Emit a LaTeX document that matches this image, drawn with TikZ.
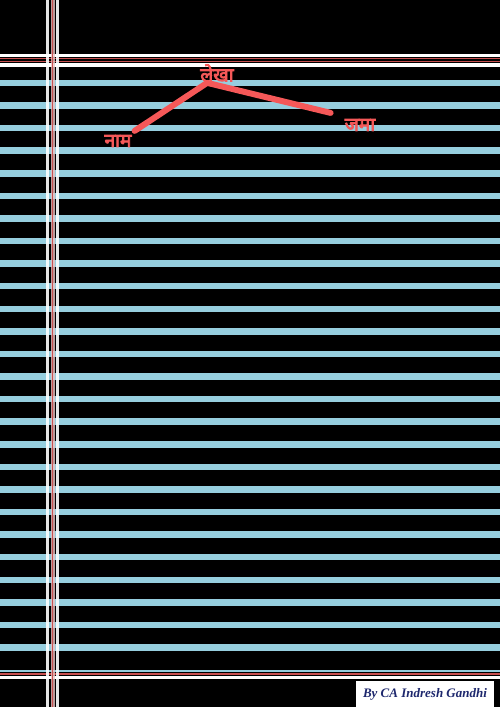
\documentclass[tikz,border=0pt]{standalone}
\usepackage{fontspec}
\newfontfamily\hindifont[Script=Devanagari, FakeBold=4]{Noto Sans}
\newfontfamily\signfont{Liberation Serif}
\usetikzlibrary{positioning}
\definecolor{rulingblue}{RGB}{150,206,222}
\definecolor{marginred}{RGB}{200,80,80}
\definecolor{inkred}{RGB}{245,88,88}
\definecolor{signblue}{RGB}{30,40,110}

\begin{document}
\begin{tikzpicture}[x=1pt, y=-1pt,
		ruling/.style={rulingblue, line width=6.5pt},
		paperwhite/.style={white, line width=3pt},
		margin/.style={marginred, line width=1.4pt},
		inknote/.style={inkred, inner sep=0pt, font=\hindifont\fontsize{19}{19}\selectfont}]
			% Page and ruling:
			\fill[black] (0,0) rectangle (500,707);
			\useasboundingbox (0,0) rectangle (500,707);
			\foreach \k in {0,...,25}
				\draw[ruling] (0,{83+22.58*\k}) -- (500,{83+22.58*\k});
			\draw[ruling, line width=2.5pt] (0,671) -- (500,671);
			% Top and bottom margins:
			\draw[paperwhite] (0,55.5) -- (500,55.5);
			\draw[margin] (0,58.5) -- (500,58.5);
			\draw[margin] (0,61.5) -- (500,61.5);
			\draw[paperwhite, line width=4pt] (0,65) -- (500,65);
			\draw[margin] (0,674) -- (500,674);
			\draw[paperwhite] (0,677.5) -- (500,677.5);
			% Left margin:
			\draw[paperwhite, opacity=0.9] (47,0) -- (47,707);
			\draw[paperwhite, opacity=0.9] (57.5,0) -- (57.5,707);
			\draw[marginred!35, line width=4pt, opacity=0.8] (52.5,0) -- (52.5,707);
			\draw[margin] (52.5,0) -- (52.5,707);
			% Red notes:
			\node[inknote] (lekha) at (217,73) {लेखा};
			\node[inknote] (naam) at (118,141) {नाम};
			\node[inknote] (jama) at (360,125) {जमा};
			\draw[inkred, line width=6pt, line cap=round, line join=round]
				([xshift=3pt, yshift=4pt]naam.north east) -- ([xshift=7pt, yshift=-1pt]lekha.south west) -- ([xshift=-14pt, yshift=6pt]jama.north west);
			% Signature:
			\node[fill=white, minimum width=140pt, minimum height=26pt, inner sep=0pt,
				text=signblue, font=\signfont\bfseries\itshape\fontsize{13}{13}\selectfont] (sign) at (425,694) {By CA Indresh Gandhi};
			\draw[black, line width=2pt] (sign.north west) -- (sign.south west);
			\draw[black, line width=2pt] (sign.north east) -- (sign.south east);
		\end{tikzpicture}
\end{document}
